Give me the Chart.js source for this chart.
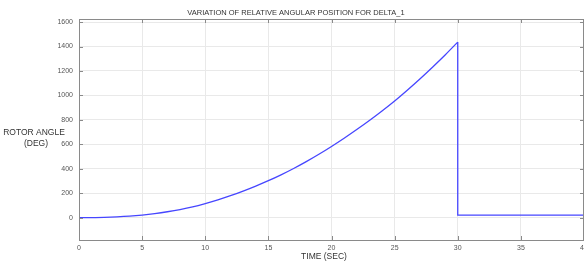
<!DOCTYPE html>
<html>
<head>
<meta charset="utf-8">
<script src="https://cdn.jsdelivr.net/npm/chart.js@4"></script>
<style>
  html, body { margin: 0; padding: 0; background: #fff; overflow: hidden; }
  #wrap { width: 584px; height: 262px; position: relative; }
</style>
</head>
<body>
<div id="wrap"><canvas id="chart"></canvas></div>
<script>
// time in seconds and rotor angle in degrees
const timeSec = [0, 1, 2, 3, 4, 5, 6, 7, 8, 9, 10, 11, 12, 13, 14, 15, 16, 17, 18, 19, 20,
                 21, 22, 23, 24, 25, 26, 27, 28, 29, 30];
const rotorAngle = [0, 1, 3, 7, 13, 22, 34, 49, 67, 89, 116, 146, 180, 218, 259, 303, 351, 403, 459, 519, 583,
                    650, 721, 795, 873, 955, 1043, 1135, 1231, 1331, 1436];
// after the jump at t = 30 s
const afterTime = [30, 30, 40];
const afterAngle = [1436, 22, 22];

const yTicks = [0, 200, 400, 600, 800, 1000, 1200, 1400, 1600];
const xTicks = [0, 5, 10, 15, 20, 25, 30, 35, 40];

const titleText = 'VARIATION OF RELATIVE ANGULAR POSITION FOR DELTA_1';
const xLabel = 'TIME (SEC)';
const yLabel = ['ROTOR ANGLE', '(DEG)'];

const lineColor = 'rgb(70, 70, 255)';

// box round the axes, inward ticks and the text labels, matlab style
const decorations = {
  id: 'decorations',
  afterDraw(chart) {
    const { ctx, chartArea: a, scales } = chart;
    ctx.save();
    ctx.strokeStyle = '#8a8a8a';
    ctx.lineWidth = 1;
    ctx.strokeRect(a.left + 0.5, a.top + 0.5, a.right - a.left - 1, a.bottom - a.top);

    ctx.beginPath();
    xTicks.forEach(v => {
      const px = Math.round(scales.x.getPixelForValue(v)) + 0.5;
      ctx.moveTo(px, a.bottom); ctx.lineTo(px, a.bottom - 4);
      ctx.moveTo(px, a.top); ctx.lineTo(px, a.top + 4);
    });
    yTicks.forEach(v => {
      const py = Math.round(scales.y.getPixelForValue(v)) + 0.5;
      ctx.moveTo(a.left, py); ctx.lineTo(a.left + 4, py);
      ctx.moveTo(a.right, py); ctx.lineTo(a.right - 4, py);
    });
    ctx.stroke();

    ctx.fillStyle = '#333';
    ctx.textAlign = 'center';
    ctx.textBaseline = 'middle';
    ctx.font = '7.5px "Liberation Sans", Arial, sans-serif';
    ctx.fillText(titleText, 296, 13);

    ctx.font = '8.5px "Liberation Sans", Arial, sans-serif';
    ctx.fillText(xLabel, 324, 257);
    ctx.fillText(yLabel[0], 34, 133);
    ctx.fillText(yLabel[1], 36, 144);
    ctx.restore();
  }
};

new Chart(document.getElementById('chart'), {
  type: 'line',
  data: {
    datasets: [{
      label: 'delta_1',
      data: timeSec.map((t, i) => ({ x: t, y: rotorAngle[i] })),
      borderColor: lineColor,
      borderWidth: 1.3,
      pointRadius: 0,
      cubicInterpolationMode: 'monotone',
      fill: false
    }, {
      label: 'delta_1 after',
      data: afterTime.map((t, i) => ({ x: t, y: afterAngle[i] })),
      borderColor: lineColor,
      borderWidth: 1.3,
      pointRadius: 0,
      tension: 0,
      fill: false
    }]
  },
  options: {
    responsive: true,
    maintainAspectRatio: false,
    animation: false,
    layout: {
      autoPadding: false,
      padding: { left: 0, right: 0, top: 19, bottom: 0 }
    },
    plugins: {
      legend: { display: false },
      tooltip: { enabled: false }
    },
    scales: {
      x: {
        type: 'linear',
        min: 0,
        max: 40,
        afterBuildTicks: s => { s.ticks = xTicks.map(v => ({ value: v })); },
        afterFit: s => { s.height = 22; s.paddingLeft = 0; s.paddingRight = 0; },
        border: { display: false },
        grid: { color: '#e9e9e9', tickLength: 0, drawTicks: false },
        ticks: {
          color: '#555',
          padding: 4,
          maxRotation: 0,
          callback: v => String(v),
          font: { size: 7, family: '"Liberation Sans", Arial, sans-serif' }
        }
      },
      y: {
        type: 'linear',
        min: -182,
        max: 1625,
        afterBuildTicks: s => { s.ticks = yTicks.map(v => ({ value: v })); },
        afterFit: s => { s.width = 79; s.paddingTop = 0; s.paddingBottom = 0; },
        border: { display: false },
        grid: { color: '#e9e9e9', tickLength: 0, drawTicks: false },
        ticks: {
          color: '#555',
          padding: 6,
          callback: v => String(v),
          font: { size: 7, family: '"Liberation Sans", Arial, sans-serif' }
        }
      }
    }
  },
  plugins: [decorations]
});
</script>
</body>
</html>
